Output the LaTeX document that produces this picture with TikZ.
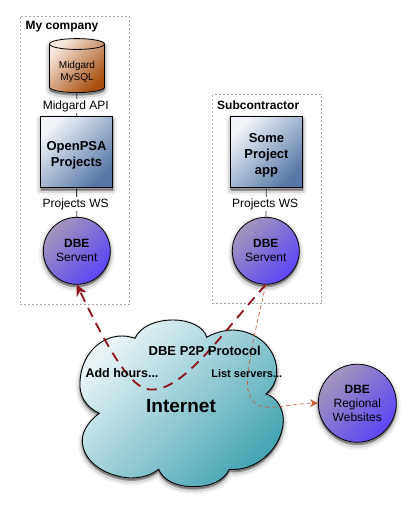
\documentclass[tikz,border=0pt]{standalone}
\usepackage{fontspec}
\setmainfont{Liberation Sans}
\usetikzlibrary{shapes.geometric,arrows.meta}

\definecolor{boxlight}{HTML}{F0F3F8}
\definecolor{boxdark}{HTML}{5778A6}
\definecolor{servlight}{HTML}{A496BC}
\definecolor{servdark}{HTML}{5A45F5}
\definecolor{dblight}{HTML}{F6E8DE}
\definecolor{dbdark}{HTML}{A94E0C}
\definecolor{cloudlight}{HTML}{EAF4F7}
\definecolor{clouddark}{HTML}{46A6B2}
\definecolor{protored}{HTML}{8E1218}
\definecolor{weborange}{HTML}{C4603A}

\newcommand{\dropline}[1]{\rule{0pt}{#1}}

\tikzset{
	softshadow/.style={
		preaction={draw=black,fill=black,opacity=0.05,line width=9pt,line join=round,transform canvas={yshift=-3pt}},
		preaction={draw=black,fill=black,opacity=0.1,line width=5pt,line join=round,transform canvas={yshift=-3pt}},
		preaction={draw=black,fill=black,opacity=0.18,line width=2pt,line join=round,transform canvas={yshift=-2pt}}
	},
	zonebox/.style={draw=black!35,line width=0.5pt,dash pattern=on 2pt off 2pt},
	zonelabel/.style={anchor=west,font=\fontsize{12}{14}\selectfont\bfseries,inner sep=0pt},
	appbox/.style={rectangle,draw=black,line width=1pt,minimum width=72pt,minimum height=71pt,align=center,softshadow,
		top color=boxlight,bottom color=boxdark,shading angle=45,font=\fontsize{13}{16}\selectfont\bfseries},
	servent/.style={circle,draw=black,line width=0.8pt,align=center,inner sep=0pt,softshadow,
		top color=servlight,bottom color=servdark,shading angle=45,font=\fontsize{12}{14}\selectfont},
	dbnode/.style={cylinder,shape border rotate=90,aspect=0.3,draw=black,line width=0.8pt,minimum width=55pt,minimum height=54pt,
		align=center,inner sep=0pt,softshadow,top color=dblight,bottom color=dbdark,shading angle=45,font=\fontsize{10}{12}\selectfont},
	wirelabel/.style={fill=white,inner sep=1pt,xshift=-1pt,yshift=-1.5pt,font=\fontsize{12}{14}\selectfont},
	wire/.style={draw=black!80,line width=0.8pt},
	cloudtext/.style={font=\fontsize{12.5}{14}\selectfont\bfseries,inner sep=0pt},
	p2pline/.style={draw=protored,line width=1.8pt,dash pattern=on 10pt off 7pt,-{Stealth[length=11pt,width=11pt]}},
	webline/.style={draw=weborange,line width=0.7pt,dash pattern=on 4pt off 3pt,-{Stealth[length=8pt,width=8pt]}}
}

\begin{document}
\begin{tikzpicture}[x=1pt,y=-1pt]
	\useasboundingbox (0,0) rectangle (417,515);
	\fill[white] (0,0) rectangle (417,515);

	\draw[zonebox] (20.5,16.5) rectangle (129.5,304.5);
	\draw[zonebox] (212.5,94.5) rectangle (321.5,303.5);
	\node[zonelabel] (mycompany) at (25.5,26.5) {My company};
	\node[zonelabel] (subcontractor) at (217,105.5) {Subcontractor};

	\node[dbnode] (midgard) at (77,68.5) {\dropline{13.5pt}Midgard\\MySQL};
	\node[appbox] (openpsa) at (76.5,152) {\dropline{15.5pt}OpenPSA\\Projects};
	\node[servent,minimum size=67pt] (servent1) at (76.8,250.8) {\textbf{DBE}\\Servent};
	\node[appbox] (someapp) at (266.5,152) {\dropline{15.5pt}Some\\Project\\app};
	\node[servent,minimum size=67pt] (servent2) at (265.8,250.8) {\textbf{DBE}\\Servent};
	\node[servent,minimum size=78pt] (regional) at (357.3,403.2) {\textbf{DBE}\\Regional\\Websites};

	\draw[wire] (midgard) -- node[wirelabel] (midgardapi) {Midgard API} (openpsa);
	\draw[wire] (openpsa) -- node[wirelabel] (projectsws1) {Projects WS} (servent1);
	\draw[wire] (someapp) -- node[wirelabel] (projectsws2) {Projects WS} (servent2);

	\draw[draw=black,line width=0.9pt,softshadow,top color=cloudlight,bottom color=clouddark,shading angle=45]
		(99.3,413.3) .. controls (86,407) and (79,396) .. (80,382)
		.. controls (81,355) and (100,336) .. (122,336)
		.. controls (127,336) and (131,337) .. (135,338.3)
		.. controls (140,327) and (155,320) .. (173,320)
		.. controls (190,320) and (204,327) .. (206.7,337.3)
		.. controls (214,333) and (224,330) .. (233,330)
		.. controls (258,331) and (276,349) .. (276.7,370)
		.. controls (277,380) and (273,388) .. (266,394)
		.. controls (276,397) and (283,407) .. (283.3,420)
		.. controls (283,448) and (256,472) .. (229.3,469.3)
		.. controls (224,481) and (210,486.7) .. (193.3,486.7)
		.. controls (176,486.7) and (163,480) .. (158.7,469.3)
		.. controls (150,476) and (140,478) .. (130,478)
		.. controls (103,476) and (82,460) .. (82.3,440)
		.. controls (82.5,430) and (90,420) .. (99.3,413.3) -- cycle;

	\coordinate (dip) at (150,389.5);
	\draw[p2pline] (servent2.south) .. controls (222,333) and (183,392) .. (dip)
		.. controls (130,389) and (106,345) .. (servent1.south);

	\coordinate (turn) at (266.7,407.3);
	\draw[webline] (servent2.south) .. controls (258,320) and (247.5,360) .. (247.5,385)
		.. controls (247.5,398) and (256,407.3) .. (turn)
		.. controls (285,407.3) and (300,403) .. (regional.west);

	\node[cloudtext,font=\fontsize{13}{15}\selectfont\bfseries] (p2p) at (204.7,351) {DBE P2P Protocol};
	\node[cloudtext] (addhours) at (122,373) {Add hours...};
	\node[cloudtext,font=\fontsize{11}{14}\selectfont\bfseries] (listservers) at (246.8,373.5) {List servers...};
	\node[cloudtext,font=\fontsize{19}{21}\selectfont\bfseries] (internet) at (181,405.8) {Internet};
\end{tikzpicture}
\end{document}
